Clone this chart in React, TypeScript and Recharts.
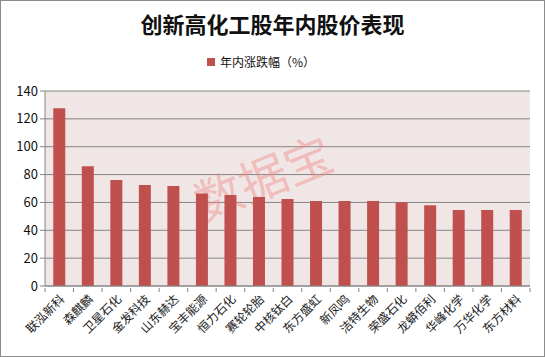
import React from 'react';
import {
  BarChart,
  Bar,
  XAxis,
  YAxis,
  CartesianGrid,
  Customized,
} from 'recharts';

const stocks = [
  '联泓新科', '森麒麟', '卫星石化', '金发科技', '山东赫达', '宝丰能源',
  '恒力石化', '赛轮轮胎', '中核钛白', '东方盛虹', '新凤鸣', '洁特生物',
  '荣盛石化', '龙蟒佰利', '华峰化学', '万华化学', '东方材料',
];
const gains = [
  127.6, 85.9, 76.1, 72.5, 71.8, 66.5, 65.3, 63.9, 62.5, 61.0, 61.0, 61.0,
  60.1, 57.9, 54.6, 54.6, 54.6,
];
const yTicks = [0, 20, 40, 60, 80, 100, 120, 140];

const data = stocks.map((name, i) => ({ name, value: gains[i] }));

const FONT = '"Noto Sans CJK SC", "Noto Sans", sans-serif';
const BAR = '#C0504D';
const GRID = '#868686';

const XTick = (props: any) => {
  const { x, y, payload, index, visibleTicksCount } = props;
  const band = 485 / stocks.length;
  return (
    <g>
      <line x1={x - band / 2} y1={y - 6} x2={x - band / 2} y2={y - 2} stroke={GRID} />
      {index === visibleTicksCount - 1 && (
        <line x1={x + band / 2} y1={y - 6} x2={x + band / 2} y2={y - 2} stroke={GRID} />
      )}
      <text
        x={x + 6}
        y={y + 6}
        transform={`rotate(-45, ${x + 6}, ${y + 6})`}
        textAnchor="end"
        fontSize={12}
        fontFamily={FONT}
        fill="#222"
      >
        {payload.value}
      </text>
    </g>
  );
};

const Watermark = () => (
  <text
    x={270}
    y={195}
    transform="rotate(-22, 270, 195)"
    textAnchor="middle"
    fontSize={48}
    fontFamily={FONT}
    fill="#F08A8A"
    fillOpacity={0.45}
  >
    数据宝
  </text>
);

export default function App() {
  return (
    <div
      style={{
        position: 'fixed',
        left: 0,
        top: 0,
        width: 545,
        height: 357,
        background: '#fff',
        border: '1px solid #8c8c8c',
        boxSizing: 'border-box',
        fontFamily: FONT,
      }}
    >
      <div
        style={{
          position: 'absolute',
          top: 6,
          left: 0,
          width: '100%',
          textAlign: 'center',
          fontSize: 22,
          fontWeight: 'bold',
          color: '#111',
          fontFamily: FONT,
        }}
      >
        创新高化工股年内股价表现
      </div>
      <div
        style={{
          position: 'absolute',
          top: 52,
          left: 206,
          display: 'flex',
          alignItems: 'center',
          fontSize: 12,
          color: '#111',
        }}
      >
        <span style={{ display: 'inline-block', width: 8, height: 8, background: BAR, marginRight: 5 }} />
        年内涨跌幅（%）
      </div>
      <div style={{ position: 'absolute', left: -1, top: -1 }}>
        <BarChart
          width={545}
          height={357}
          data={data}
          margin={{ top: 91, right: 15, bottom: 0, left: 0 }}
          barCategoryGap="29%"
        >
          <CartesianGrid
            vertical={false}
            stroke={GRID}
            strokeDasharray=""
            fill="#F1E6E6"
            fillOpacity={1}
          />
          <Customized component={Watermark} />
          <XAxis
            dataKey="name"
            interval={0}
            tickLine={false}
            axisLine={{ stroke: GRID }}
            tick={<XTick />}
            height={71}
          />
          <YAxis
            domain={[0, 140]}
            ticks={yTicks}
            interval={0}
            width={45}
            tickSize={5}
            axisLine={{ stroke: GRID }}
            tickLine={{ stroke: GRID }}
            tick={{ fontSize: 13, fill: '#111', fontFamily: FONT }}
          />
          <Bar dataKey="value" fill={BAR} isAnimationActive={false} />
        </BarChart>
      </div>
    </div>
  );
}
